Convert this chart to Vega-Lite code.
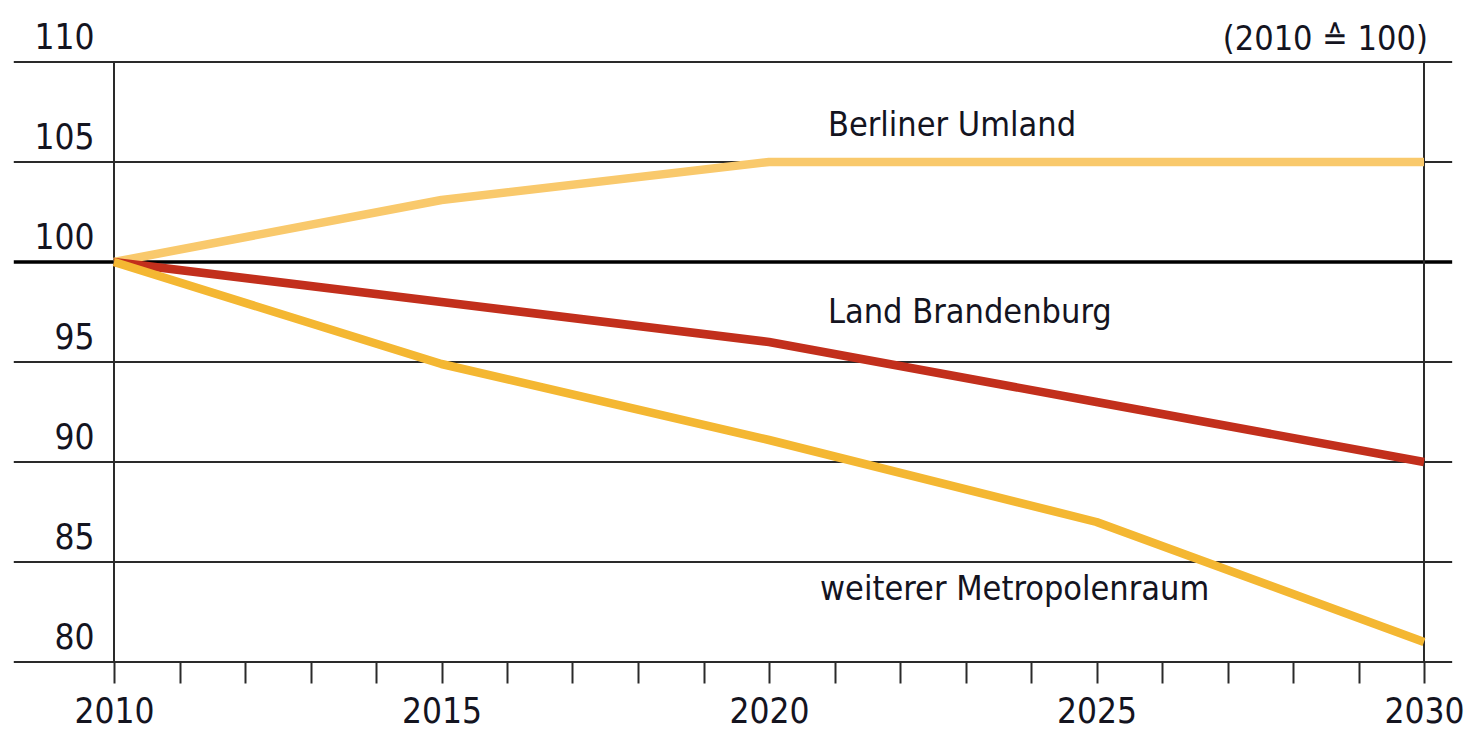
{
  "$schema": "https://vega.github.io/schema/vega-lite/v6.json",
  "width": 1310,
  "height": 600,
  "autosize": {"type": "none"},
  "padding": {"left": 114, "top": 62, "right": 44, "bottom": 71},
  "background": "white",
  "config": {
    "view": {"stroke": null},
    "font": "DejaVu Sans Condensed",
    "text": {"font": "DejaVu Sans Condensed", "fontSize": 34, "color": "#14141f"}
  },
  "datasets": {
    "series": [
      {"year": 2010, "value": 100, "region": "Berliner Umland"},
      {"year": 2015, "value": 103.1, "region": "Berliner Umland"},
      {"year": 2020, "value": 105, "region": "Berliner Umland"},
      {"year": 2025, "value": 105, "region": "Berliner Umland"},
      {"year": 2030, "value": 105, "region": "Berliner Umland"},
      {"year": 2010, "value": 100, "region": "Land Brandenburg"},
      {"year": 2015, "value": 98, "region": "Land Brandenburg"},
      {"year": 2020, "value": 96, "region": "Land Brandenburg"},
      {"year": 2025, "value": 93, "region": "Land Brandenburg"},
      {"year": 2030, "value": 90, "region": "Land Brandenburg"},
      {"year": 2010, "value": 100, "region": "weiterer Metropolenraum"},
      {"year": 2015, "value": 94.9, "region": "weiterer Metropolenraum"},
      {"year": 2020, "value": 91.1, "region": "weiterer Metropolenraum"},
      {"year": 2025, "value": 87, "region": "weiterer Metropolenraum"},
      {"year": 2030, "value": 81, "region": "weiterer Metropolenraum"}
    ],
    "grid": [
      {"v": 80}, {"v": 85}, {"v": 90}, {"v": 95}, {"v": 105}, {"v": 110}
    ],
    "labels": [
      {"label": "Berliner Umland", "lx": 2020.9, "ly": 106.3},
      {"label": "Land Brandenburg", "lx": 2020.9, "ly": 96.95},
      {"label": "weiterer Metropolenraum", "lx": 2020.78, "ly": 83.1}
    ],
    "one": [{"k": 1}]
  },
  "layer": [
    {
      "data": {"name": "grid"},
      "mark": {"type": "rule", "color": "#2a2a2a", "strokeWidth": 2, "clip": false},
      "encoding": {
        "x": {"datum": 2008.47, "type": "quantitative", "scale": {"domain": [2010, 2030], "nice": false, "zero": false},
          "axis": {"values": [2010,2011,2012,2013,2014,2015,2016,2017,2018,2019,2020,2021,2022,2023,2024,2025,2026,2027,2028,2029,2030],
            "format": "d", "title": null, "domain": false, "grid": false, "tickSize": 21, "tickWidth": 2, "tickColor": "#2a2a2a",
            "labelExpr": "datum.value % 5 === 0 ? datum.label : ''", "labelFont": "DejaVu Sans Condensed", "labelFontSize": 35,
            "labelColor": "#14141f", "labelBaseline": "alphabetic", "labelPadding": 39, "labelFlush": false, "labelOverlap": false}},
        "x2": {"datum": 2030.43},
        "y": {"field": "v", "type": "quantitative", "scale": {"domain": [80, 110], "nice": false, "zero": false},
          "axis": {"values": [80, 85, 90, 95, 100, 105, 110], "title": null, "domain": false, "ticks": false, "grid": false,
            "labelAlign": "right", "labelBaseline": "alphabetic", "labelOffset": -14, "labelPadding": 20,
            "labelFont": "DejaVu Sans Condensed", "labelFontSize": 35, "labelColor": "#14141f", "labelFlush": false, "labelOverlap": false}}
      }
    },
    {
      "data": {"name": "one"},
      "mark": {"type": "rule", "color": "#000000", "strokeWidth": 3.5, "clip": false},
      "encoding": {
        "x": {"datum": 2008.47, "type": "quantitative"},
        "x2": {"datum": 2030.43},
        "y": {"datum": 100, "type": "quantitative"}
      }
    },
    {
      "data": {"name": "one"},
      "mark": {"type": "rule", "color": "#2a2a2a", "strokeWidth": 2},
      "encoding": {
        "x": {"datum": 2010, "type": "quantitative"},
        "y": {"datum": 110, "type": "quantitative"},
        "y2": {"datum": 80}
      }
    },
    {
      "data": {"name": "one"},
      "mark": {"type": "rule", "color": "#2a2a2a", "strokeWidth": 2},
      "encoding": {
        "x": {"datum": 2030, "type": "quantitative"},
        "y": {"datum": 110, "type": "quantitative"},
        "y2": {"datum": 80}
      }
    },
    {
      "data": {"name": "series"},
      "mark": {"type": "line", "strokeWidth": 8.5, "strokeCap": "butt", "strokeJoin": "round"},
      "encoding": {
        "x": {"field": "year", "type": "quantitative"},
        "y": {"field": "value", "type": "quantitative"},
        "color": {"field": "region", "type": "nominal", "legend": null,
          "scale": {"domain": ["Berliner Umland", "weiterer Metropolenraum", "Land Brandenburg"],
                    "range": ["#F9C96C", "#F4B732", "#C22F1C"]}},
        "order": {"field": "year"}
      }
    },
    {
      "data": {"name": "labels"},
      "mark": {"type": "text", "align": "left", "baseline": "alphabetic"},
      "encoding": {
        "x": {"field": "lx", "type": "quantitative"},
        "y": {"field": "ly", "type": "quantitative"},
        "text": {"field": "label"}
      }
    },
    {
      "data": {"name": "one"},
      "mark": {"type": "text", "align": "right", "baseline": "alphabetic", "clip": false},
      "encoding": {
        "x": {"datum": 2030.06, "type": "quantitative"},
        "y": {"datum": 110.6, "type": "quantitative"},
        "text": {"value": "(2010 ≙ 100)"}
      }
    }
  ]
}
